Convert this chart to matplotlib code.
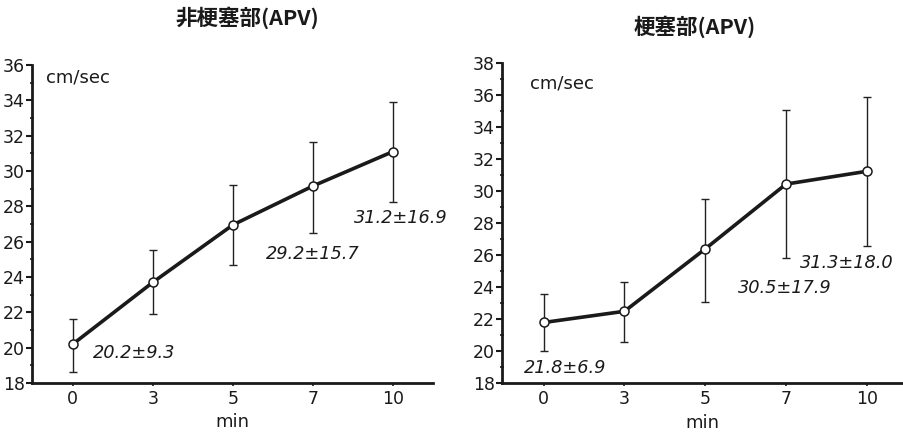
import matplotlib
matplotlib.use("Agg")
import matplotlib.pyplot as plt
from matplotlib.ticker import MultipleLocator

plt.rcParams['font.family'] = ['DejaVu Sans', 'Noto Sans CJK JP']

times = ["0", "3", "5", "7", "10"]

left_title = "非梗塞部(APV)"
left_mean = [20.2, 23.7, 26.95, 29.15, 31.1]
left_hi = [21.6, 25.5, 29.2, 31.65, 33.9]
left_lo = [18.65, 21.9, 24.7, 26.5, 28.25]
left_labels = ["20.2±9.3", None, None, "29.2±15.7", "31.2±16.9"]

right_title = "梗塞部(APV)"
right_mean = [21.8, 22.5, 26.4, 30.45, 31.25]
right_hi = [23.6, 24.35, 29.5, 35.1, 35.9]
right_lo = [20.0, 20.55, 23.1, 25.8, 26.6]
right_labels = ["21.8±6.9", None, None, "30.5±17.9", "31.3±18.0"]

fig = plt.figure(figsize=(9.04, 4.33), dpi=100)

def panel(rect, mean, hi, lo, labels, ylim, label_pos, unit_pos, xlim):
    ax = fig.add_axes(rect)
    x = list(range(len(times)))
    yerr = [[m - l for m, l in zip(mean, lo)], [h - m for m, h in zip(mean, hi)]]
    ax.errorbar(x, mean, yerr=yerr, fmt='none', ecolor='#222222', elinewidth=1.0,
                capsize=3, capthick=1.0, zorder=2)
    ax.plot(x, mean, color='#1a1a1a', lw=2.6, marker='o', ms=6.5, mfc='white',
            mec='#1a1a1a', mew=1.1, zorder=3)
    ax.set_xlim(*xlim)
    ax.set_ylim(*ylim)
    ax.set_xticks(x)
    ax.set_xticklabels(times)
    ax.yaxis.set_major_locator(MultipleLocator(2))
    ax.yaxis.set_minor_locator(MultipleLocator(1))
    for s in ['top', 'right']:
        ax.spines[s].set_visible(False)
    for s in ['left', 'bottom']:
        ax.spines[s].set_linewidth(2.0)
        ax.spines[s].set_color('#1a1a1a')
    ax.tick_params(axis='y', which='major', direction='out', length=4, width=1.5,
                   labelsize=12.5, pad=1, colors='#1a1a1a')
    ax.tick_params(axis='y', which='minor', direction='inout', length=3, width=1.2,
                   colors='#1a1a1a')
    ax.tick_params(axis='x', which='major', direction='out', length=2, width=1.2,
                   labelsize=12.5, pad=3, colors='#1a1a1a')
    ax.set_xlabel("min", fontsize=13, labelpad=4, color='#1a1a1a')
    for (lx, ly), t in zip(label_pos, [l for l in labels if l]):
        ax.text(lx, ly, t, fontsize=12.8, style='italic', ha='left', va='center',
                color='#1a1a1a')
    ax.text(unit_pos[0], unit_pos[1], "cm/sec", fontsize=13, ha='left', va='center',
            color='#1a1a1a')
    return ax

panel([0.0354, 0.1155, 0.4436, 0.7344], left_mean, left_hi, left_lo, left_labels,
      (18, 36), [(0.25, 19.7), (2.41, 25.3), (3.51, 27.35)], (-0.33, 35.3), (-0.51, 4.5))
panel([0.555, 0.1148, 0.444, 0.739], right_mean, right_hi, right_lo, right_labels,
      (18, 38), [(-0.25, 18.95), (2.40, 23.95), (3.17, 25.5)], (-0.17, 36.75), (-0.52, 4.45))

fig.text(0.274, 0.96, left_title, fontsize=15.5, fontweight='bold', ha='center', va='center',
         family=['Noto Sans CJK JP', 'DejaVu Sans'], color='#1a1a1a')
fig.text(0.769, 0.939, right_title, fontsize=15.5, fontweight='bold', ha='center', va='center',
         family=['Noto Sans CJK JP', 'DejaVu Sans'], color='#1a1a1a')

fig.savefig("out.png", dpi=100)
